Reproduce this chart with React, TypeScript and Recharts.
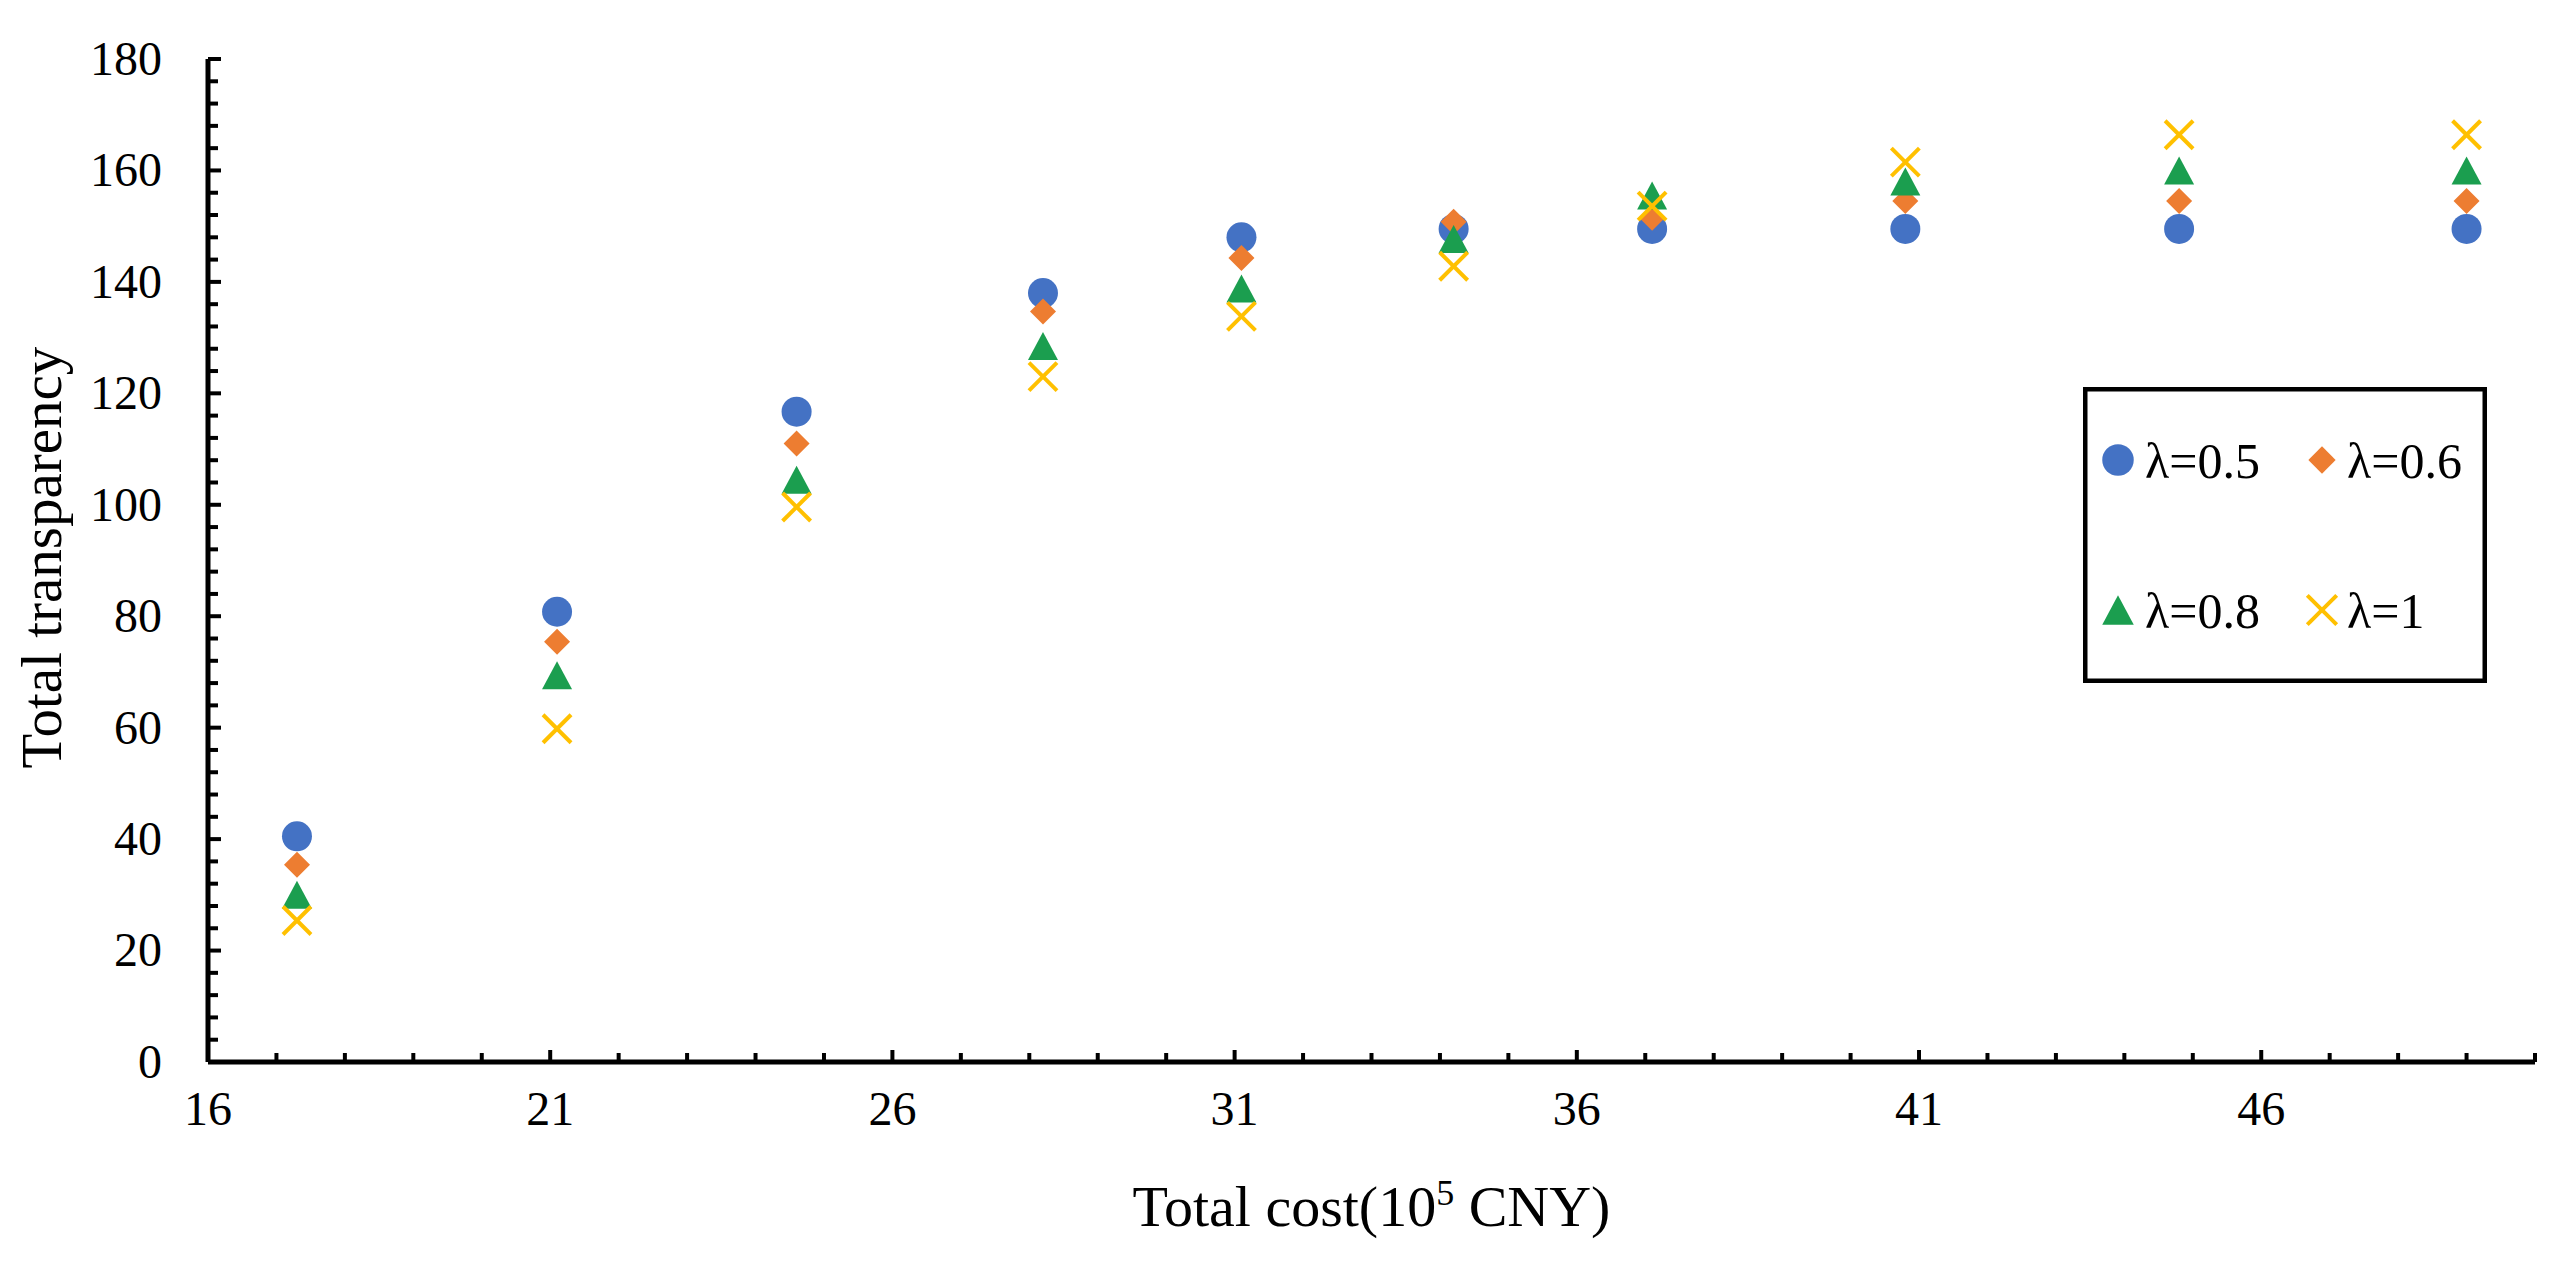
import React from "react";
import { ScatterChart, Scatter, XAxis, YAxis, Legend, Label } from "recharts";

// total cost (10^5 CNY) for each solution
const costs = [17.3, 21.1, 24.6, 28.2, 31.1, 34.2, 37.1, 40.8, 44.8, 49.0];

// total transparency per lambda
const lambda05 = [40.5, 80.8, 116.7, 138, 148, 149.5, 149.5, 149.5, 149.5, 149.5];
const lambda06 = [35.4, 75.4, 111, 134.7, 144.3, 150.8, 151.5, 154.5, 154.5, 154.5];
const lambda08 = [30, 69.4, 104.5, 128.5, 138.8, 147.7, 155.5, 158, 160, 160];
const lambda1 = [25.4, 59.8, 99.6, 123, 133.8, 142.8, 153.6, 161.5, 166.4, 166.4];

const seriesNames = ["λ=0.5", "λ=0.6", "λ=0.8", "λ=1"];

// ticks: minor every 1 on x, every 4 on y
const xTicks = Array.from({ length: 35 }, (_, i) => 16 + i);
const yTicks = Array.from({ length: 46 }, (_, i) => i * 4);

const FONT = "'Times New Roman', 'Liberation Serif', serif";

const toPoints = (vals: number[]) => costs.map((x, i) => ({ x, y: vals[i] }));

type MarkerKind = "circle" | "diamond" | "triangle" | "x";

const drawMarker = (kind: MarkerKind, cx: number, cy: number, color: string, s = 1) => {
  if (kind === "circle") return <circle cx={cx} cy={cy} r={15 * s} fill={color} />;
  if (kind === "diamond") {
    const h = 13 * s;
    return <path d={`M${cx},${cy - h}L${cx + h},${cy}L${cx},${cy + h}L${cx - h},${cy}Z`} fill={color} />;
  }
  if (kind === "triangle") {
    const w = 15 * s;
    const h = 14 * s;
    return <path d={`M${cx},${cy - h}L${cx + w},${cy + h}L${cx - w},${cy + h}Z`} fill={color} />;
  }
  const d = 14 * s;
  return (
    <g stroke={color} strokeWidth={4}>
      <line x1={cx - d} y1={cy - d} x2={cx + d} y2={cy + d} />
      <line x1={cx - d} y1={cy + d} x2={cx + d} y2={cy - d} />
    </g>
  );
};

const series = [
  { name: seriesNames[0], data: toPoints(lambda05), color: "#4472C4", marker: "circle" as MarkerKind },
  { name: seriesNames[1], data: toPoints(lambda06), color: "#ED7D31", marker: "diamond" as MarkerKind },
  { name: seriesNames[2], data: toPoints(lambda08), color: "#1B9E4F", marker: "triangle" as MarkerKind },
  { name: seriesNames[3], data: toPoints(lambda1), color: "#FFC000", marker: "x" as MarkerKind },
];

const XTick = (props: any) => {
  const { x, y, payload } = props;
  const v = payload.value;
  const major = (v - 16) % 5 === 0;
  return (
    <g>
      <line x1={x} x2={x} y1={y} y2={y - (major ? 12 : 9)} stroke="#000" strokeWidth={4} />
      {major && v < 50 && (
        <text x={x} y={y + 63} textAnchor="middle" fontSize={48} fontFamily={FONT} fill="#000">
          {v}
        </text>
      )}
    </g>
  );
};

const YTick = (props: any) => {
  const { x, y, payload } = props;
  const v = payload.value;
  const major = v % 20 === 0;
  return (
    <g>
      <line x1={x} x2={x + (major ? 13 : 10)} y1={y} y2={y} stroke="#000" strokeWidth={4} />
      {major && (
        <text x={x - 46} y={y} dy="0.33em" textAnchor="end" fontSize={48} fontFamily={FONT} fill="#000">
          {v}
        </text>
      )}
    </g>
  );
};

const XTitle = (props: any) => {
  const vb = props.viewBox || { x: 200, y: 1054, width: 2327 };
  return (
    <text x={vb.x + vb.width / 2} y={vb.y + 164} textAnchor="middle" fontSize={58} fontFamily={FONT} fill="#000">
      <tspan>Total cost(10</tspan>
      <tspan fontSize={36} dy={-21}>5</tspan>
      <tspan dy={21}> CNY)</tspan>
    </text>
  );
};

const YTitle = (props: any) => {
  const vb = props.viewBox || { y: 51, height: 1003 };
  const cy = vb.y + vb.height / 2 - 3;
  return (
    <text
      transform={`translate(53,${cy}) rotate(-90)`}
      textAnchor="middle"
      fontSize={57}
      fontFamily={FONT}
      fill="#000"
    >
      Total transparency
    </text>
  );
};

const LegendBox = () => {
  const cells = [
    { cx: 35, tx: 62, cy: 73 },
    { cx: 239, tx: 264, cy: 73 },
    { cx: 35, tx: 62, cy: 223 },
    { cx: 239, tx: 264, cy: 223 },
  ];
  return (
    <svg width={404} height={296} style={{ display: "block" }}>
      <rect x={2.25} y={2.25} width={399.5} height={291.5} fill="#fff" stroke="#000" strokeWidth={4.5} />
      {series.map((s, i) => (
        <g key={s.name}>
          {drawMarker(s.marker, cells[i].cx, cells[i].cy, s.color, 1.05)}
          <text x={cells[i].tx} y={cells[i].cy + 18} fontSize={50} fontFamily={FONT} fill="#000">
            {s.name}
          </text>
        </g>
      ))}
    </svg>
  );
};

export default function App() {
  return (
    <ScatterChart
      width={2542}
      height={1240}
      margin={{ top: 51, right: 15, bottom: 36, left: 0 }}
      style={{ background: "#fff" }}
    >
      <XAxis
        type="number"
        dataKey="x"
        domain={[16, 50]}
        ticks={xTicks}
        interval={0}
        tick={<XTick />}
        tickSize={0}
        tickMargin={0}
        tickLine={false}
        height={150}
        axisLine={{ stroke: "#000", strokeWidth: 5 }}
        allowDataOverflow
      >
        <Label content={<XTitle />} />
      </XAxis>
      <YAxis
        type="number"
        dataKey="y"
        domain={[0, 180]}
        ticks={yTicks}
        interval={0}
        tick={<YTick />}
        tickSize={0}
        tickMargin={0}
        tickLine={false}
        width={200}
        axisLine={{ stroke: "#000", strokeWidth: 5 }}
        allowDataOverflow
      >
        <Label content={<YTitle />} />
      </YAxis>
      <Legend
        layout="horizontal"
        verticalAlign="middle"
        align="center"
        content={<LegendBox />}
        wrapperStyle={{ left: 2075, top: 378.7, width: 404, height: 296 }}
      />
      {series.map((s) => (
        <Scatter
          key={s.name}
          name={s.name}
          data={s.data}
          fill={s.color}
          isAnimationActive={false}
          shape={(p: any) => drawMarker(s.marker, p.cx, p.cy, s.color)}
        />
      ))}
    </ScatterChart>
  );
}
